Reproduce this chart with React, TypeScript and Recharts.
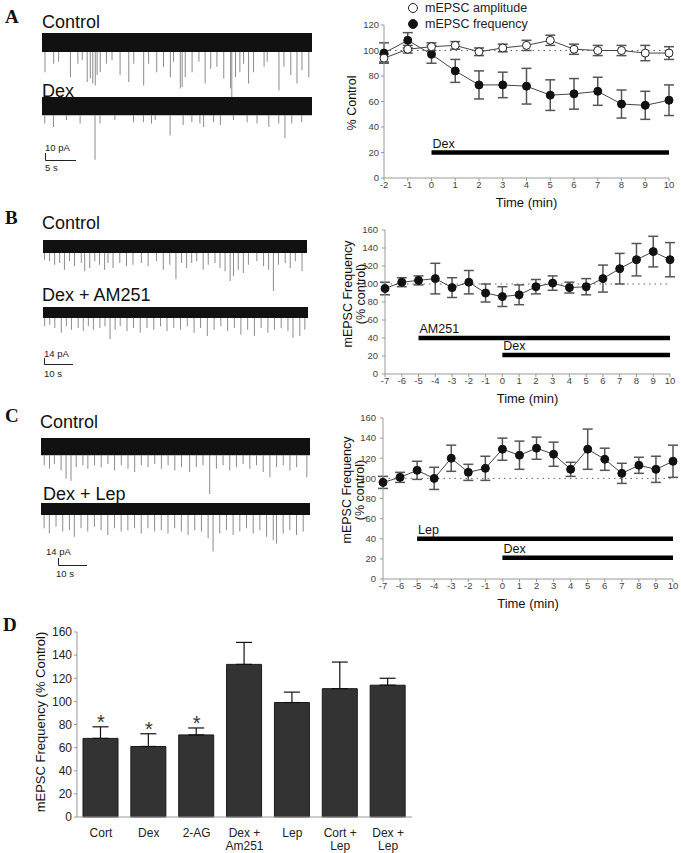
import React from "react";
import {
  ComposedChart,
  LineChart,
  Line,
  Bar,
  XAxis,
  YAxis,
  ErrorBar,
  ReferenceLine,
  ReferenceArea,
  Legend,
} from "recharts";

const FONT = "Arial, 'Liberation Sans', sans-serif";
const SERIF = "'Times New Roman', 'Liberation Serif', serif";

// panel A: time course (% control)
const timeA = [-2, -1, 0, 1, 2, 3, 4, 5, 6, 7, 8, 9, 10];
const ampA = [94, 101, 103, 104, 99, 102, 104, 108, 101, 100, 100, 98, 98];
const ampErrA = [3, 3, 3, 3, 3, 3, 4, 4, 4, 4, 4, 6, 5];
const freqA = [98, 108, 97, 84, 73, 73, 72, 65, 66, 68, 58, 57, 61];
const freqErrA = [8, 6, 7, 9, 11, 10, 14, 12, 12, 11, 11, 11, 12];

// panels B / C: mEPSC frequency (% control)
const timeBC = [-7, -6, -5, -4, -3, -2, -1, 0, 1, 2, 3, 4, 5, 6, 7, 8, 9, 10];
const freqB = [95, 102, 104, 106, 96, 102, 90, 86, 88, 97, 101, 96, 97, 106, 117, 127, 136, 127];
const freqErrB = [7, 5, 5, 17, 11, 13, 10, 11, 11, 8, 8, 6, 9, 15, 17, 18, 17, 19];
const freqC = [96, 101, 108, 100, 120, 106, 110, 129, 123, 130, 124, 109, 129, 119, 105, 113, 109, 117];
const freqErrC = [6, 5, 9, 11, 13, 8, 12, 11, 14, 11, 12, 7, 20, 11, 10, 8, 13, 16];

// panel D: summary bars
const groupsD = ["Cort", "Dex", "2-AG", "Dex +\nAm251", "Lep", "Cort +\nLep", "Dex +\nLep"];
const meanD = [68, 61, 71, 132, 99, 111, 114];
const semD = [10, 11, 6, 19, 9, 23, 6];
const sigD = ["*", "*", "*", "", "", "", ""];

// example traces: [time s, event amplitude pA]
const spikesACtrl = [
  [0.5, 29], [1.9, 17], [2.7, 14], [4.6, 36], [5.8, 17], [6.5, 12], [7.3, 43], [7.8, 38],
  [8.2, 45], [8.6, 48], [8.9, 33], [9.4, 29], [10.4, 17], [11.3, 12], [12.6, 33], [14.0, 43],
  [14.8, 17], [16.4, 48], [17.2, 17], [18.5, 29], [19.6, 21], [20.7, 36], [21.2, 14], [22.3, 52],
  [22.6, 50], [23.1, 36], [24.2, 29], [25.3, 14], [26.3, 45], [27.2, 24], [28.2, 21], [29.3, 38],
  [30.4, 52], [30.6, 67], [31.2, 36], [31.9, 29], [32.5, 17], [33.3, 45], [34.1, 29], [35.8, 21],
  [36.3, 14], [38.2, 55], [39.0, 21], [40.1, 33], [41.1, 45], [41.9, 26], [43.0, 36],
];
const spikesADex = [
  [0.5, 12], [1.9, 17], [4.0, 7], [6.2, 12], [8.6, 64], [9.4, 12], [11.8, 7], [14.8, 10],
  [16.4, 10], [17.7, 12], [18.3, 7], [20.7, 29], [22.8, 14], [24.2, 10], [25.5, 12], [26.1, 17],
  [27.7, 10], [28.8, 14], [30.9, 7], [33.1, 10], [34.7, 12], [36.6, 17], [38.2, 12], [39.2, 33],
  [40.3, 12], [41.9, 10],
];
const spikesBCtrl = [
  [0.6, 19], [2.4, 23], [4.2, 33], [6.0, 28], [7.7, 47], [9.5, 23], [11.3, 37], [13.7, 28],
  [14.9, 51], [16.7, 42], [18.5, 23], [20.2, 33], [22.0, 47], [23.2, 28], [25.0, 42], [27.4, 28],
  [29.8, 37], [32.1, 33], [35.1, 28], [37.5, 37], [40.5, 23], [42.9, 47], [45.2, 33], [47.4, 74],
  [49.4, 28], [51.2, 42], [53.0, 28], [54.8, 23], [57.1, 47], [58.9, 33], [61.3, 28], [63.1, 42],
  [64.9, 51], [66.7, 79], [67.9, 65], [69.6, 47], [71.4, 56], [73.2, 33], [76.2, 23], [78.6, 37],
  [80.4, 47], [82.1, 107], [83.9, 33], [86.3, 28], [88.1, 42], [89.9, 23], [92.3, 51],
];
const spikesBDex = [
  [0.6, 23], [2.4, 19], [4.2, 28], [6.5, 42], [8.3, 23], [10.1, 33], [12.5, 28], [14.3, 37],
  [16.1, 23], [17.9, 33], [20.2, 28], [22.0, 23], [23.8, 60], [25.6, 33], [27.4, 23], [29.8, 37],
  [32.1, 28], [34.5, 42], [36.9, 28], [39.3, 33], [41.7, 23], [44.0, 37], [46.4, 28], [48.8, 33],
  [51.2, 23], [53.6, 42], [55.9, 28], [58.3, 51], [60.7, 33], [63.1, 23], [65.5, 37], [67.9, 28],
  [70.2, 47], [72.6, 33], [75.0, 51], [77.4, 28], [79.8, 42], [82.1, 33], [84.5, 28], [86.9, 37],
  [88.7, 56], [91.1, 51], [92.9, 33],
];
const spikesCCtrl = [
  [1.1, 21], [2.9, 28], [4.6, 18], [6.9, 32], [8.6, 49], [10.3, 53], [12.1, 25], [14.4, 21],
  [16.1, 28], [18.4, 21], [20.7, 25], [23.0, 18], [25.3, 32], [27.6, 21], [29.9, 28], [32.2, 35],
  [34.5, 21], [36.8, 25], [39.1, 18], [41.4, 28], [43.7, 21], [46.0, 32], [48.3, 25], [51.1, 35],
  [53.4, 25], [55.7, 21], [58.0, 81], [60.3, 28], [62.6, 21], [64.9, 32], [67.2, 25], [69.5, 18],
  [71.8, 28], [74.1, 21], [76.4, 35], [78.7, 46], [81.0, 25], [83.3, 21], [85.6, 32], [87.9, 25],
  [91.4, 46],
];
const spikesCDex = [
  [1.1, 28], [2.9, 39], [5.2, 25], [7.5, 35], [9.8, 32], [11.5, 46], [13.8, 28], [16.1, 35],
  [18.4, 25], [20.7, 32], [23.0, 42], [25.3, 28], [27.6, 35], [29.9, 32], [32.2, 28], [34.5, 39],
  [36.8, 28], [39.1, 35], [41.4, 32], [43.7, 39], [46.0, 28], [48.3, 35], [50.6, 42], [52.9, 32],
  [55.2, 35], [57.5, 49], [59.2, 77], [61.5, 39], [63.8, 32], [66.1, 42], [68.4, 35], [70.7, 28],
  [73.0, 39], [75.3, 32], [77.6, 46], [79.9, 53], [81.0, 60], [83.3, 39], [85.6, 32], [87.9, 42],
  [90.2, 35],
];

const AXIS = "#999";
const tickSmall = { fontSize: 9.5, fill: "#444" };

const Trace = ({ spikes, noise, floor, duration, pxPerPA, left, top, width }: any) => {
  const height = Math.round((noise + floor) * pxPerPA);
  const data = spikes.map(([t, a]: number[]) => ({ t, v: -a }));
  return (
    <div style={{ position: "absolute", left, top }}>
      <ComposedChart width={width} height={height} data={data} margin={{ top: 0, right: 0, left: 0, bottom: 0 }}>
        <XAxis dataKey="t" type="number" domain={[0, duration]} hide />
        <YAxis type="number" domain={[-floor, noise]} hide allowDataOverflow />
        <ReferenceArea x1={0} x2={duration} y1={0} y2={noise} fill="#111" fillOpacity={1} stroke="none" />
        <Bar dataKey="v" fill="#8c8c8c" barSize={1} isAnimationActive={false} />
      </ComposedChart>
    </div>
  );
};

const drugLabel = (text: string) => (props: any) => {
  const vb = props.viewBox || {};
  return (
    <text x={vb.x + 1} y={vb.y - 5} fontSize={12.5} fill="#111">
      {text}
    </text>
  );
};

const legendContent = (props: any) => {
  const items = [...(props.payload || [])].sort((a: any) => (a.dataKey === "amp" ? -1 : 1));
  return (
    <div style={{ fontSize: 12.5, lineHeight: "16px", color: "#222", fontFamily: FONT }}>
      {items.map((e: any) => (
        <div key={e.dataKey} style={{ display: "flex", alignItems: "center", whiteSpace: "nowrap" }}>
          <span
            style={{
              display: "inline-block",
              width: 8,
              height: 8,
              borderRadius: "50%",
              border: "1px solid #222",
              background: e.dataKey === "amp" ? "#fff" : "#111",
              marginRight: 7,
            }}
          />
          {e.value}
        </div>
      ))}
    </div>
  );
};

const PanelA = () => {
  const data = timeA.map((t, i) => ({ t, amp: ampA[i], ampErr: ampErrA[i], freq: freqA[i], freqErr: freqErrA[i] }));
  return (
    <div style={{ position: "absolute", left: 340, top: 0 }}>
      <LineChart width={341} height={213} data={data} margin={{ top: 25, right: 12, left: 0, bottom: 0 }}>
        <XAxis
          dataKey="t"
          type="number"
          domain={[-2, 10]}
          ticks={timeA}
          interval={0}
          stroke={AXIS}
          tickSize={3}
          tickMargin={0}
          tick={tickSmall}
          height={35}
          label={{ value: "Time (min)", position: "insideBottom", offset: 6, fontSize: 13, fill: "#111" }}
        />
        <YAxis
          type="number"
          domain={[0, 120]}
          ticks={[0, 20, 40, 60, 80, 100, 120]}
          width={44}
          stroke={AXIS}
          tickSize={3}
          tickMargin={2}
          tick={tickSmall}
        />
        <ReferenceLine y={100} stroke="#666" strokeDasharray="1.5 4" />
        <ReferenceLine segment={[{ x: 0, y: 20 }, { x: 10, y: 20 }]} stroke="#000" strokeWidth={4.5} label={drugLabel("Dex")} />
        <Line dataKey="freq" name="mEPSC frequency" stroke="#444" strokeWidth={1} isAnimationActive={false}
          dot={{ r: 4, fill: "#111", stroke: "#111" }}>
          <ErrorBar dataKey="freqErr" width={5} stroke="#555" direction="y" />
        </Line>
        <Line dataKey="amp" name="mEPSC amplitude" stroke="#444" strokeWidth={1} isAnimationActive={false}
          dot={{ r: 4, fill: "#fff", stroke: "#222", strokeWidth: 1 }}>
          <ErrorBar dataKey="ampErr" width={5} stroke="#555" direction="y" />
        </Line>
        <Legend layout="vertical" align="center" verticalAlign="middle" content={legendContent}
          wrapperStyle={{ left: 68, top: 0, width: "auto" }} />
      </LineChart>
    </div>
  );
};

const FreqPanel = ({ freq, err, top, height, marginTop, right, yWidth, drug }: any) => {
  const data = timeBC.map((t, i) => ({ t, f: freq[i], e: err[i] }));
  return (
    <div style={{ position: "absolute", left: 340, top }}>
      <LineChart width={341} height={height} data={data} margin={{ top: marginTop, right, left: 0, bottom: 0 }}>
        <XAxis
          dataKey="t"
          type="number"
          domain={[-7, 10]}
          ticks={timeBC}
          interval={0}
          stroke={AXIS}
          tickSize={3}
          tickMargin={0}
          tick={tickSmall}
          height={35}
          label={{ value: "Time (min)", position: "insideBottom", offset: 6, fontSize: 13, fill: "#111" }}
        />
        <YAxis
          type="number"
          domain={[0, 160]}
          ticks={[0, 20, 40, 60, 80, 100, 120, 140, 160]}
          width={yWidth}
          stroke={AXIS}
          tickSize={3}
          tickMargin={4}
          tick={tickSmall}
        />
        <ReferenceLine y={100} stroke="#666" strokeDasharray="1.5 4" />
        <ReferenceLine segment={[{ x: -5, y: 40 }, { x: 10, y: 40 }]} stroke="#000" strokeWidth={4.5} label={drugLabel(drug)} />
        <ReferenceLine segment={[{ x: 0, y: 21 }, { x: 10, y: 21 }]} stroke="#000" strokeWidth={4.5} label={drugLabel("Dex")} />
        <Line dataKey="f" stroke="#444" strokeWidth={1} isAnimationActive={false} dot={{ r: 4, fill: "#111", stroke: "#111" }}>
          <ErrorBar dataKey="e" width={5} stroke="#555" direction="y" />
        </Line>
      </LineChart>
    </div>
  );
};

const BarTick = ({ x, y, payload }: any) => {
  const lines = String(payload.value).split("\n");
  return (
    <text x={x} y={y} textAnchor="middle" fontSize={12} fill="#222">
      {lines.map((l, i) => (
        <tspan key={i} x={x} dy={i === 0 ? 20 : 13}>
          {l}
        </tspan>
      ))}
    </text>
  );
};

const starLabel = (props: any) => {
  const s = sigD[props.index];
  if (!s) return null;
  return (
    <text x={props.x} y={props.y + 2} textAnchor="middle" fontSize={20} fill="#333">
      {s}
    </text>
  );
};

const PanelD = () => {
  const data = groupsD.map((g, i) => ({ g, m: meanD[i], e: [0, semD[i]], top: meanD[i] + semD[i] }));
  return (
    <div style={{ position: "absolute", left: 0, top: 620 }}>
      <ComposedChart width={430} height={233} data={data} margin={{ top: 12, right: 18, left: 0, bottom: 0 }}>
        <XAxis dataKey="g" stroke={AXIS} tickLine={false} tickSize={0} tickMargin={0} height={36} interval={0} tick={<BarTick />} />
        <YAxis
          type="number"
          domain={[0, 160]}
          ticks={[0, 20, 40, 60, 80, 100, 120, 140, 160]}
          width={77}
          stroke={AXIS}
          tickSize={3}
          tickMargin={2}
          tick={{ fontSize: 12, fill: "#222" }}
        />
        <Bar dataKey="m" barSize={35} fill="#333" stroke="#1a1a1a" isAnimationActive={false}>
          <ErrorBar dataKey="e" width={8} stroke="#111" strokeWidth={1.2} direction="y" />
        </Bar>
        <Line dataKey="top" stroke="none" dot={false} activeDot={false} isAnimationActive={false} label={starLabel} />
      </ComposedChart>
    </div>
  );
};

const Annotations = () => (
  <svg width={681} height={853} style={{ position: "absolute", left: 0, top: 0 }}>
    <g fontFamily={SERIF} fontWeight="bold" fontSize={19} fill="#111">
      <text x={5} y={23}>A</text>
      <text x={5} y={224}>B</text>
      <text x={5} y={422}>C</text>
      <text x={3} y={631}>D</text>
    </g>
    <g fontFamily={FONT} fontSize={18} fill="#111">
      <text x={42} y={27.5}>Control</text>
      <text x={42} y={96.5}>Dex</text>
      <text x={42} y={228.5}>Control</text>
      <text x={42} y={300.5}>Dex + AM251</text>
      <text x={40} y={427.5}>Control</text>
      <text x={43} y={499.5}>Dex + Lep</text>
    </g>
    <g fontFamily={FONT} fontSize={9.5} fill="#222">
      <text x={45} y={150.5}>10 pA</text>
      <text x={45} y={170.5}>5 s</text>
      <text x={44} y={356.5}>14 pA</text>
      <text x={44} y={376.5}>10 s</text>
      <text x={46} y={554.5}>14 pA</text>
      <text x={56} y={576.5}>10 s</text>
    </g>
    <g fill="none" stroke="#222" strokeWidth={1}>
      <polyline points="45.5,153 45.5,160.5 76,160.5" />
      <polyline points="44.5,358 44.5,364.5 73,364.5" />
      <polyline points="58.5,558 58.5,565.5 87,565.5" />
    </g>
    <g fontFamily={FONT} fontSize={12.5} fill="#111" textAnchor="middle">
      <text transform="translate(352,103) rotate(-90)" dy="0.35em">% Control</text>
      <text transform="translate(348,294) rotate(-90)" dy="0.35em">mEPSC Frequency</text>
      <text transform="translate(361,294) rotate(-90)" dy="0.35em">(% control)</text>
      <text transform="translate(347,490) rotate(-90)" dy="0.35em">mEPSC Frequency</text>
      <text transform="translate(360,490) rotate(-90)" dy="0.35em">(% control)</text>
      <text transform="translate(40,722) rotate(-90)" dy="0.35em" fontSize={13}>mEPSC Frequency (% Control)</text>
    </g>
  </svg>
);

export default function App() {
  return (
    <div style={{ position: "absolute", left: 0, top: 0, width: 681, height: 853, background: "#fff", fontFamily: FONT }}>
      <Annotations />
      <Trace spikes={spikesACtrl} noise={27} floor={70} duration={43.5} pxPerPA={0.7} left={42} top={33} width={270} />
      <Trace spikes={spikesADex} noise={26} floor={70} duration={43.5} pxPerPA={0.7} left={42} top={97} width={270} />
      <Trace spikes={spikesBCtrl} noise={37} floor={110} duration={94} pxPerPA={0.357} left={43} top={240} width={264} />
      <Trace spikes={spikesBDex} noise={31} floor={65} duration={94} pxPerPA={0.357} left={43} top={307} width={265} />
      <Trace spikes={spikesCCtrl} noise={36} floor={85} duration={92.5} pxPerPA={0.476} left={41} top={438} width={269} />
      <Trace spikes={spikesCDex} noise={25} floor={80} duration={92.5} pxPerPA={0.476} left={41} top={503} width={269} />
      <PanelA />
      <FreqPanel freq={freqB} err={freqErrB} top={215} height={194} marginTop={15} right={11} yWidth={45} drug="AM251" />
      <FreqPanel freq={freqC} err={freqErrC} top={405} height={209} marginTop={13} right={8} yWidth={43} drug="Lep" />
      <PanelD />
    </div>
  );
}
